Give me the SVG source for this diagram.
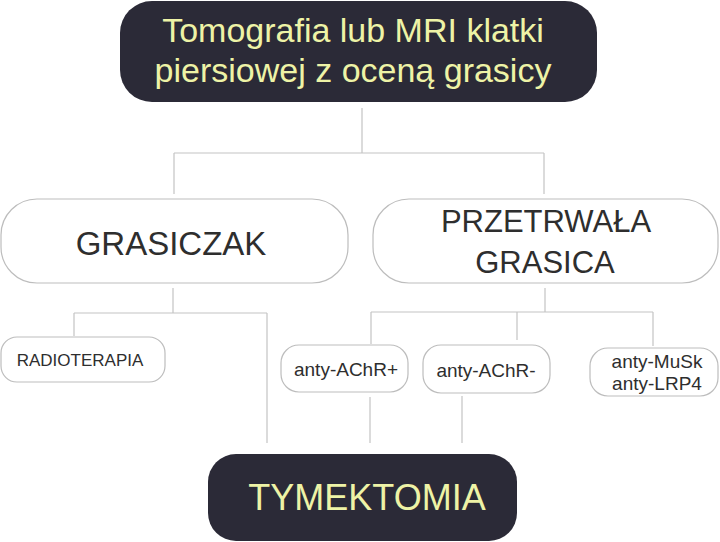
<svg xmlns="http://www.w3.org/2000/svg" width="720" height="542" viewBox="0 0 720 542">
<style>
.dark{fill:#2b2a37;stroke:none}
.light{fill:#ffffff;stroke:#bdbdbd;stroke-width:1.2}
.yt{fill:#eef3a6;font-family:"Liberation Sans",Arial,sans-serif;text-anchor:middle}
.t{fill:#2e2e2e;font-family:"Liberation Sans",Arial,sans-serif;text-anchor:middle}
.conn{fill:none;stroke:#c4c4c4;stroke-width:1.2}
</style>
<rect width="720" height="542" fill="#ffffff"/>
<g id="connectors" class="conn">
<path d="M362 108V153M174 153H544M174 153V194M544 153V194"/>
<path d="M173 288V313M74 313H267M74 313V336M267 313V443"/>
<path d="M545 288V312M371 312H653M371 312V344M517 312V340M653 312V346"/>
<path d="M370 397V443M462 396V443"/>
</g>
<g id="node-tomografia">
<rect class="dark" x="120" y="1" width="477" height="101" rx="32"/>
<text class="yt" x="353" y="42" font-size="34">Tomografia lub MRI klatki</text>
<text class="yt" x="353" y="82" font-size="34">piersiowej z oceną grasicy</text>
</g>
<g id="node-grasiczak">
<rect class="light" x="1" y="199" width="347" height="84" rx="36"/>
<text class="t" x="171" y="255" font-size="33">GRASICZAK</text>
</g>
<g id="node-przetrwala">
<rect class="light" x="373" y="199" width="345" height="84" rx="36"/>
<text class="t" x="546" y="232" font-size="31">PRZETRWAŁA</text>
<text class="t" x="545" y="273" font-size="31">GRASICA</text>
</g>
<g id="node-radioterapia">
<rect class="light" x="1" y="337" width="164" height="45" rx="16"/>
<text class="t" x="80" y="366" font-size="17">RADIOTERAPIA</text>
</g>
<g id="node-achr-plus">
<rect class="light" x="281" y="345" width="127" height="47" rx="18"/>
<text class="t" x="346" y="376" font-size="19">anty-AChR+</text>
</g>
<g id="node-achr-minus">
<rect class="light" x="423" y="345" width="127" height="48" rx="18"/>
<text class="t" x="486" y="377" font-size="19">anty-AChR-</text>
</g>
<g id="node-musk">
<rect class="light" x="590" y="348" width="128" height="48" rx="18"/>
<text class="t" x="657" y="368" font-size="19">anty-MuSk</text>
<text class="t" x="657" y="390" font-size="19">anty-LRP4</text>
</g>
<g id="node-tymektomia">
<rect class="dark" x="208" y="454" width="309" height="87" rx="28"/>
<text class="yt" x="367" y="510" font-size="36">TYMEKTOMIA</text>
</g>
</svg>
